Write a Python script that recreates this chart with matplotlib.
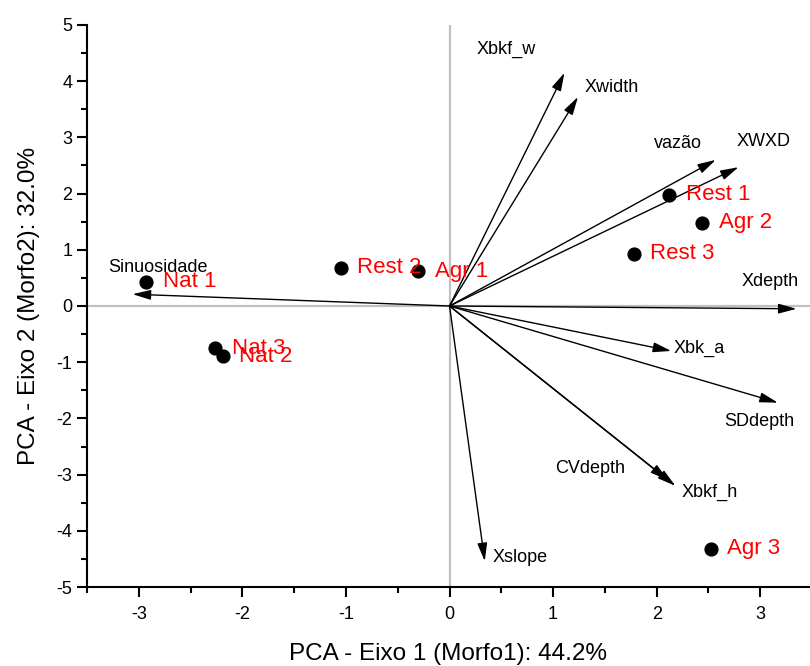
import numpy as np
import matplotlib.pyplot as plt
from matplotlib.ticker import MultipleLocator

plt.rcParams['font.family'] = ['Liberation Sans', 'DejaVu Sans']
plt.rcParams['axes.unicode_minus'] = False

# ─── PCA scores (sites) ─────────────────────────────────────────────
sites = ['Nat 1', 'Nat 2', 'Nat 3', 'Rest 1', 'Rest 2', 'Rest 3',
         'Agr 1', 'Agr 2', 'Agr 3']
pc1_scores = [-2.93, -2.19, -2.26, 2.12, -1.05, 1.78, -0.30, 2.44, 2.52]
pc2_scores = [0.43, -0.89, -0.75, 1.98, 0.68, 0.93, 0.62, 1.48, -4.32]

# ─── PCA loadings (variables, scaled) ───────────────────────────────
variables = ['Xbkf_w', 'Xwidth', 'vazão', 'XWXD', 'Xdepth', 'Sinuosidade',
             'Xbk_a', 'SDdepth', 'CVdepth', 'Xbkf_h', 'Xslope']
pc1_loadings = [1.11, 1.24, 2.57, 2.79, 3.35, -3.06, 2.14, 3.17, 2.11, 2.18, 0.34]
pc2_loadings = [4.15, 3.72, 2.60, 2.47, -0.05, 0.21, -0.80, -1.72, -3.10, -3.20, -4.54]

# where each variable name is written
var_label_x = [0.26, 1.30, 1.97, 2.77, 2.82, -3.30, 2.16, 2.65, 1.02, 2.24, 0.42]
var_label_y = [4.56, 3.88, 2.90, 2.92, 0.44, 0.69, -0.75, -2.05, -2.90, -3.31, -4.47]

fig = plt.figure(figsize=(8.1, 6.66), dpi=100)
ax = fig.add_axes([0.1074, 0.1186, 0.8926, 0.8439])

# zero lines
ax.axhline(0, color='#c0c0c0', lw=1.6, zorder=0)
ax.axvline(0, color='#c0c0c0', lw=1.6, zorder=0)

# loading arrows
for name, lx, ly, tx, ty in zip(variables, pc1_loadings, pc2_loadings,
                                var_label_x, var_label_y):
    ax.annotate('', xy=(lx, ly), xytext=(0, 0),
                arrowprops=dict(arrowstyle='-|>,head_length=1.1,head_width=0.3',
                                mutation_scale=10, color='black', lw=1,
                                shrinkA=0, shrinkB=0))
    ax.text(tx, ty, name, fontsize=13, color='black', ha='left', va='center')

# site scores
ax.scatter(pc1_scores, pc2_scores, s=85, color='black', zorder=3)
for name, x, y in zip(sites, pc1_scores, pc2_scores):
    ax.text(x + 0.16, y, name, fontsize=16, color='red', ha='left',
            va='center', zorder=4)

ax.set_xlim(-3.5, 3.48)
ax.set_ylim(-5, 5)
ax.xaxis.set_major_locator(MultipleLocator(1))
ax.xaxis.set_minor_locator(MultipleLocator(0.5))
ax.yaxis.set_major_locator(MultipleLocator(1))
ax.yaxis.set_minor_locator(MultipleLocator(0.5))
ax.tick_params(which='major', length=7, width=1.5, labelsize=13, direction='out')
ax.tick_params(which='minor', length=4, width=1.5, direction='out')
ax.tick_params(axis='x', which='major', pad=7)

for side in ['top', 'right']:
    ax.spines[side].set_visible(False)
for side in ['left', 'bottom']:
    ax.spines[side].set_linewidth(1.5)

ax.set_xlabel('PCA - Eixo 1 (Morfo1): 44.2%', fontsize=17.5, labelpad=14)
ax.set_ylabel('PCA - Eixo 2 (Morfo2): 32.0%', fontsize=17.5, labelpad=12)

plt.savefig('out.png', dpi=100)
